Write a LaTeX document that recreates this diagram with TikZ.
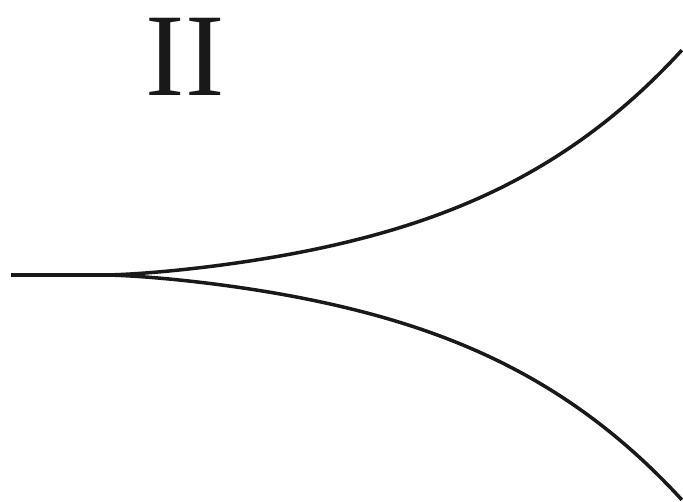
\documentclass[tikz,border=0pt]{standalone}
\usepackage{fontspec}
\setmainfont{Liberation Serif}
\begin{document}
\begin{tikzpicture}[x=1pt,y=1pt,curve/.style={line width=3.5pt,black!90}]
\useasboundingbox (0,0) rectangle (683,501);
\coordinate (start) at (11,226);
\coordinate (cusp) at (105,226);
\draw[curve] (start) -- (cusp);
\draw[curve] plot[domain=0:5.77,samples=120,variable=\t] ({105+100*\t},{226+7.78*\t^1.5+0.1057*\t^4});
\draw[curve] plot[domain=0:5.77,samples=120,variable=\t] ({105+100*\t},{226-7.78*\t^1.5-0.1057*\t^4});
\node[text=black!90] (label) at (185,444) {\fontsize{118}{120}\selectfont II};
\end{tikzpicture}
\end{document}
